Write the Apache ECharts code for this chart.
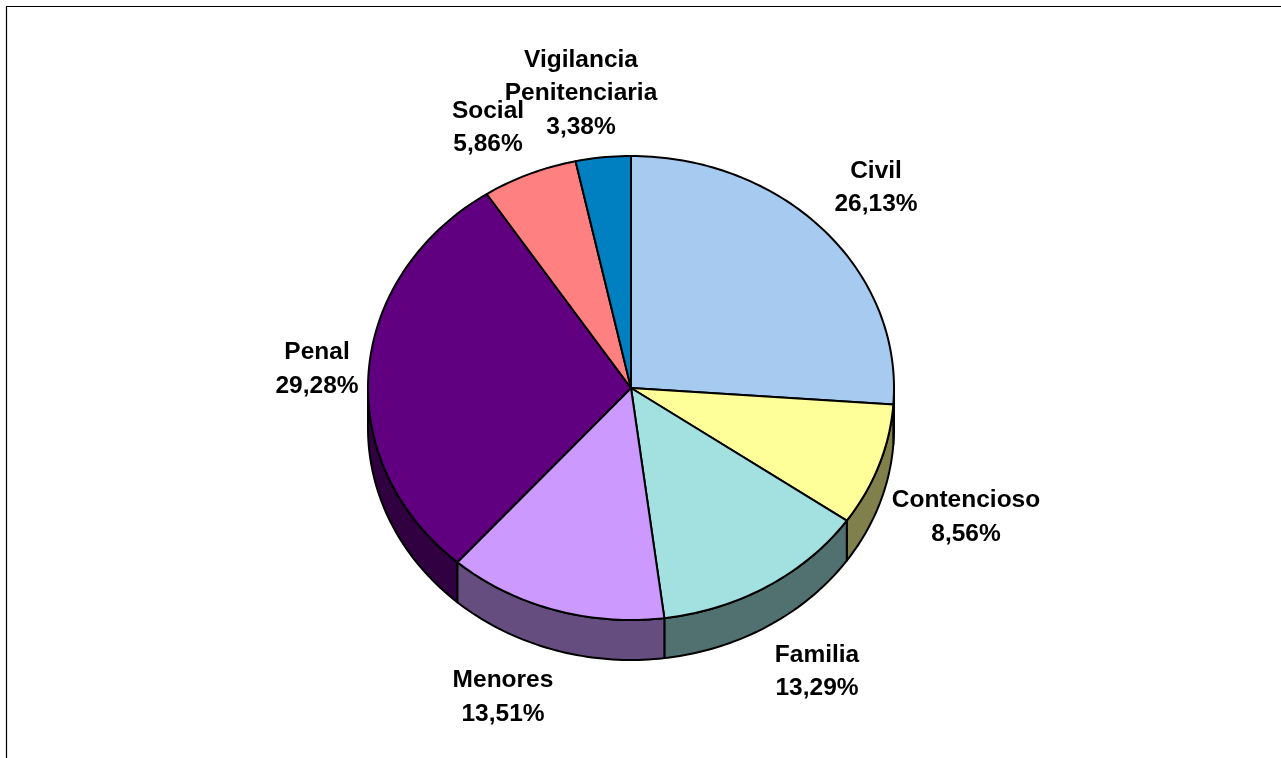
<!DOCTYPE html>
<html><head><meta charset="utf-8">
<style>html,body{margin:0;padding:0;background:#fff;overflow:hidden}#c{width:1281px;height:758px}</style>
<script src="https://cdn.jsdelivr.net/npm/echarts@6/dist/echarts.min.js"></script>
</head><body><div id="c"></div>
<script>
const categories = ['Civil','Contencioso','Familia','Menores','Penal','Social','Vigilancia\nPenitenciaria'];
const values = [26.13,8.56,13.29,13.51,29.28,5.86,3.38];
const topColors = ['#A6CAF0','#FFFF99','#A3E0E0','#CC99FF','#600080','#FF8080','#0080C0'];
const sideColors = ['#536578','#80804D','#517070','#654D80','#300040','#804040','#004060'];
const labelCenters = [[876,186],[966,515.5],[817,670],[503,695.5],[317,367.5],[488,126],[581,92]];

const CX=631, CY=388, RX=263, RY=232, DEPTH=40;
const total = values.reduce((a,b)=>a+b,0);
const PT = (a,dy)=>[CX+RX*Math.sin(a), CY-RY*Math.cos(a)+(dy||0)];
function arcPts(a0,a1,dy){
  const n=Math.max(2,Math.ceil((a1-a0)/0.02)), p=[];
  for(let i=0;i<=n;i++) p.push(PT(a0+(a1-a0)*i/n,dy));
  return p;
}
const lineStyle = c => ({fill:c,stroke:'#000',lineWidth:2,lineJoin:'round'});
function angles(idx){
  let s=0; for(let i=0;i<idx;i++) s+=values[i];
  return [s/total*2*Math.PI,(s+values[idx])/total*2*Math.PI];
}
const chart = echarts.init(document.getElementById('c'),null,{renderer:'canvas'});
chart.setOption({
  animation:false,
  backgroundColor:'#fff',
  graphic:[{type:'polyline',silent:true,shape:{points:[[6.5,758],[6.5,6.5],[1281,6.5]]},style:{stroke:'#000',lineWidth:1.2,fill:null}}],
  series:[
   {type:'custom',coordinateSystem:'none',z:2,silent:true,data:values.map((v,i)=>[i,v]),
    renderItem(params,api){
      const [a0,a1]=angles(api.value(0));
      const lo=Math.max(a0,Math.PI/2), hi=Math.min(a1,3*Math.PI/2);
      if(hi<=lo) return {type:'group',children:[]};
      const pts=arcPts(lo,hi,0).concat(arcPts(lo,hi,DEPTH).reverse());
      return {type:'polygon',shape:{points:pts},style:lineStyle(sideColors[api.value(0)])};
    }},
   {type:'custom',coordinateSystem:'none',z:3,silent:true,data:values.map((v,i)=>[i,v]),
    renderItem(params,api){
      const [a0,a1]=angles(api.value(0));
      return {type:'polygon',shape:{points:[[CX,CY]].concat(arcPts(a0,a1,0))},style:lineStyle(topColors[api.value(0)])};
    }},
   {type:'custom',coordinateSystem:'none',z:4,silent:true,data:values.map((v,i)=>[i,v]),
    renderItem(params,api){
      const i=api.value(0);
      const t=categories[i]+'\n'+api.value(1).toFixed(2).replace('.',',')+'%';
      return {type:'text',x:labelCenters[i][0],y:labelCenters[i][1]+1.5,
        style:{text:t,fill:'#000',font:'bold 24.5px "Liberation Sans"',lineHeight:33.5,align:'center',verticalAlign:'middle'}};
    }}
  ]
});
</script></body></html>
